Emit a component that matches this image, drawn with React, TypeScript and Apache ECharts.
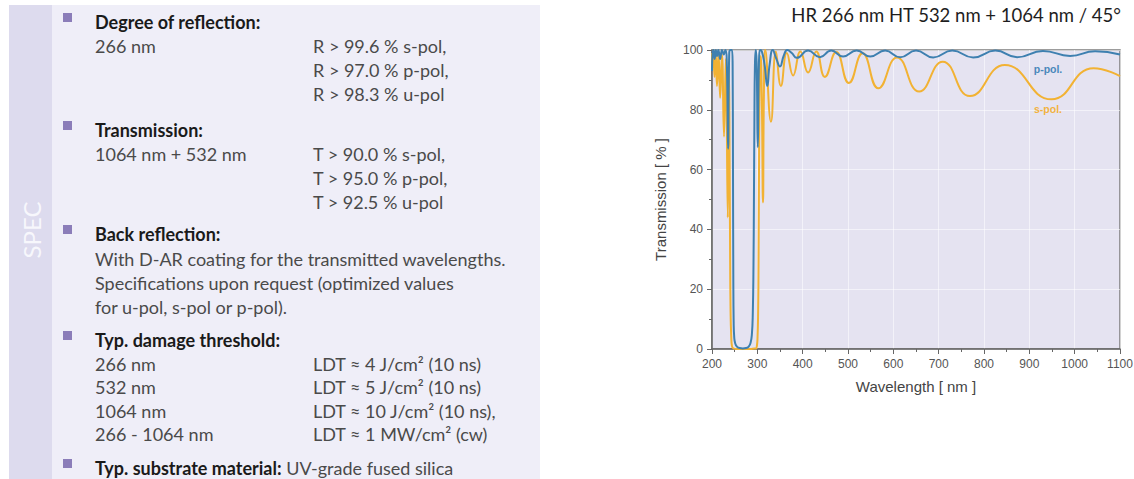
import React, { useEffect, useRef } from 'react';
import * as echarts from 'echarts';

// ---------- chart data ----------
const pPolWavelength = [
  200, 201.5, 203.5, 206, 208.5, 211, 214, 218, 222, 226, 229.5, 232.5, 235.5, 238, 241, 244,
  245.5, 246.3, 247, 247.8, 249, 251, 255, 261, 268, 275, 281, 285, 288, 290, 291.5, 292.5,
  293.5, 294.7, 296.5, 298.5, 301, 303.5, 306, 310, 316, 322, 327, 334, 342, 350, 358, 366,
  376, 387, 412, 438, 463, 489, 519, 549, 582, 615, 650, 688, 730, 776, 825, 873, 930, 990,
  1045, 1100,
];
const pPolTransmission = [
  93, 99, 100, 97, 100, 98, 100, 97, 100, 98.5, 100, 97, 67, 99, 100, 100,
  95, 60, 25, 9, 4, 2, 0.8, 0.3, 0.2, 0.3, 0.8, 2, 5, 12, 28, 50,
  75, 95, 100, 96, 67.5, 95, 100, 99.5, 95, 88, 95, 100, 97, 94.5, 98, 100,
  99, 97.4, 99.8, 97.6, 99.8, 97.8, 99.8, 97.8, 99.8, 97.6, 99.8, 97.5, 99.8, 97.5, 99.8, 97.6, 99.7, 98,
  99.6, 98.5,
];
const sPolWavelength = [
  200, 201, 203, 205.5, 208, 211, 214.5, 218, 222, 226.5, 230.5, 234.8, 237.3, 239, 240, 241,
  242.5, 244, 247, 255, 270, 285, 294, 297, 299, 300.5, 301.7, 302.7, 303.7, 305, 307.3, 309.8,
  312.5, 314.5, 317.5, 330, 341, 352, 365, 379, 395, 412, 430, 449, 474, 502, 532, 567,
  608, 657, 709, 769, 846, 949, 1042, 1100,
];
const sPolTransmission = [
  99, 94, 100, 91, 99.5, 88, 99, 84, 98.5, 71, 97, 44, 95, 60, 30, 12,
  4, 1, 0.2, 0, 0, 0, 0.2, 0.2, 1, 4, 12, 30, 60, 88, 98, 85,
  49, 85, 100, 76, 99.5, 88, 99, 91.5, 99.5, 92.5, 99.5, 91, 99.3, 89, 98.9, 87.2,
  97.5, 86.1, 96.1, 84.6, 95, 83.5, 93.9, 91.3,
];

const chartTitle = 'HR 266 nm HT 532 nm + 1064 nm / 45°';
const xAxisName = 'Wavelength [ nm ]';
const yAxisName = 'Transmission [ % ]';
const pPolLabel = 'p-pol.';
const sPolLabel = 's-pol.';

// ---------- spec panel text ----------
const sideLabel = 'SPEC';
const reflectionHeading = 'Degree of reflection:';
const reflectionLeft = ['266 nm'];
const reflectionRight = ['R > 99.6 % s-pol,', 'R > 97.0 % p-pol,', 'R > 98.3 % u-pol'];
const transmissionHeading = 'Transmission:';
const transmissionLeft = ['1064 nm + 532 nm'];
const transmissionRight = ['T > 90.0 % s-pol,', 'T > 95.0 % p-pol,', 'T > 92.5 % u-pol'];
const backHeading = 'Back reflection:';
const backLines = [
  'With D-AR coating for the transmitted wavelengths.',
  'Specifications upon request (optimized values',
  'for u-pol, s-pol or p-pol).',
];
const damageHeading = 'Typ. damage threshold:';
const damageLeft = ['266 nm', '532 nm', '1064 nm', '266 - 1064 nm'];
const damageRight = [
  'LDT ≈ 4 J/cm² (10 ns)',
  'LDT ≈ 5 J/cm² (10 ns)',
  'LDT ≈ 10 J/cm² (10 ns),',
  'LDT ≈ 1 MW/cm² (cw)',
];
const substrateHeading = 'Typ. substrate material:';
const substrateValue = 'UV-grade fused silica';

const zip = (xs: number[], ys: number[]) => xs.map((x, i) => [x, ys[i]]);

const PANEL_FONT = 'Lato, "Noto Sans", sans-serif';
const CHART_FONT = '"Liberation Sans", Arial, sans-serif';
const BODY_SIZE = 18;

function buildPanel(): any[] {
  const els: any[] = [];
  els.push({ type: 'rect', shape: { x: 9, y: 5, width: 531, height: 474 }, style: { fill: '#efeef8' }, silent: true });
  els.push({ type: 'rect', shape: { x: 9, y: 5, width: 43, height: 474 }, style: { fill: '#dddbee' }, silent: true });
  els.push({
    type: 'text', x: 31, y: 230, rotation: Math.PI / 2,
    style: { text: sideLabel, fontSize: 24, fontFamily: PANEL_FONT, fill: '#f7f7fc', align: 'center', verticalAlign: 'middle', textAlign: 'center', textVerticalAlign: 'middle' },
  });
  const textX = 95;
  const colX = 313;
  const head = (y: number, text: string, rich?: boolean) => {
    els.push({ type: 'rect', shape: { x: 63, y: y - 9, width: 9, height: 9 }, style: { fill: '#8b7db9' } });
    if (rich) {
      els.push({
        type: 'text', x: textX, y,
        style: {
          text, fontSize: BODY_SIZE, fontFamily: PANEL_FONT, fill: '#1a1a1a',
          align: 'left', verticalAlign: 'middle', textAlign: 'left', textVerticalAlign: 'middle',
          rich: {
            h: { fontSize: BODY_SIZE, fontFamily: PANEL_FONT, fontWeight: 'bold', fill: '#1a1a1a', color: '#1a1a1a' },
            v: { fontSize: BODY_SIZE, fontFamily: PANEL_FONT, fill: '#4a4a4a', color: '#4a4a4a' },
          },
        },
      });
    } else {
      els.push({
        type: 'text', x: textX, y,
        style: { text, fontSize: BODY_SIZE, fontWeight: 'bold', fontFamily: PANEL_FONT, fill: '#1a1a1a', align: 'left', verticalAlign: 'middle', textAlign: 'left', textVerticalAlign: 'middle' },
      });
    }
  };
  const body = (x: number, y: number, text: string) => {
    els.push({
      type: 'text', x, y,
      style: { text, fontSize: BODY_SIZE, fontFamily: PANEL_FONT, fill: '#4a4a4a', align: 'left', verticalAlign: 'middle', textAlign: 'left', textVerticalAlign: 'middle' },
    });
  };
  const step = 23.8;
  head(22, reflectionHeading);
  reflectionLeft.forEach((t, i) => body(textX, 46 + i * step, t));
  reflectionRight.forEach((t, i) => body(colX, 46 + i * step, t));
  head(130, transmissionHeading);
  transmissionLeft.forEach((t, i) => body(textX, 154 + i * step, t));
  transmissionRight.forEach((t, i) => body(colX, 154 + i * step, t));
  head(234, backHeading);
  backLines.forEach((t, i) => body(textX, 259 + i * step, t));
  head(340, damageHeading);
  damageLeft.forEach((t, i) => body(textX, 364 + i * 23.4, t));
  damageRight.forEach((t, i) => body(colX, 364 + i * 23.4, t));
  head(468, `{h|${substrateHeading}} {v|${substrateValue}}`, true);
  return els;
}

export default function App() {
  const ref = useRef<HTMLDivElement>(null);
  useEffect(() => {
    if (!ref.current) return;
    const chart = echarts.init(ref.current, null, { renderer: 'svg' });
    const axisColor = '#666';
    const option: any = {
      animation: false,
      backgroundColor: '#ffffff',
      grid: {
        left: 712, right: 14, top: 50, bottom: 130,
        show: true, backgroundColor: '#e5e3f1', borderColor: '#7c7c7c', borderWidth: 1.5,
        outerBoundsMode: 'none', containLabel: false,
      },
      xAxis: {
        type: 'value', min: 200, max: 1100, interval: 100,
        name: xAxisName, nameLocation: 'middle', nameGap: 30,
        nameTextStyle: { color: '#444', fontSize: 15, fontFamily: CHART_FONT },
        axisLine: { show: true, lineStyle: { color: axisColor, width: 1.5 } },
        axisTick: { show: true, inside: false, length: 5, lineStyle: { color: axisColor } },
        minorTick: { show: true, splitNumber: 2, length: 3, lineStyle: { color: axisColor } },
        axisLabel: { color: '#555', fontSize: 12, margin: 9, fontFamily: CHART_FONT, formatter: (v: number) => String(v) },
        splitLine: { show: true, lineStyle: { color: 'rgba(255,255,255,0.55)', width: 1 } },
        minorSplitLine: { show: false },
      },
      yAxis: {
        type: 'value', min: 0, max: 100, interval: 20,
        name: yAxisName, nameLocation: 'middle', nameGap: 44, nameRotate: 90,
        nameTextStyle: { color: '#444', fontSize: 15, fontFamily: CHART_FONT },
        axisLine: { show: true, lineStyle: { color: axisColor, width: 1.5 } },
        axisTick: { show: true, inside: false, length: 5, lineStyle: { color: axisColor } },
        minorTick: { show: true, splitNumber: 2, length: 3, lineStyle: { color: axisColor } },
        axisLabel: { color: '#555', fontSize: 12, margin: 9, fontFamily: CHART_FONT, formatter: (v: number) => String(v) },
        splitLine: { show: true, lineStyle: { color: 'rgba(255,255,255,0.55)', width: 1 } },
      },
      series: [
        {
          name: sPolLabel, type: 'line', data: zip(sPolWavelength, sPolTransmission),
          showSymbol: false, symbol: 'none', smooth: 0.5, clip: true,
          lineStyle: { color: '#f2b233', width: 2 }, z: 2,
        },
        {
          name: pPolLabel, type: 'line', data: zip(pPolWavelength, pPolTransmission),
          showSymbol: false, symbol: 'none', smooth: 0.5, clip: true,
          lineStyle: { color: '#3e80b0', width: 2 }, z: 3,
        },
      ],
      graphic: [
        ...buildPanel(),
        {
          type: 'text', x: 1121, y: 15,
          style: { text: chartTitle, fontSize: 18.5, fontFamily: PANEL_FONT, fill: '#1e1e1e', align: 'right', verticalAlign: 'middle', textAlign: 'right', textVerticalAlign: 'middle' },
        },
        {
          type: 'text', x: 1048, y: 69, z: 10,
          style: { text: pPolLabel, fontSize: 10.5, fontWeight: 'bold', fontFamily: CHART_FONT, fill: '#4a88bb', align: 'center', verticalAlign: 'middle', textAlign: 'center', textVerticalAlign: 'middle' },
        },
        {
          type: 'text', x: 1048, y: 109, z: 10,
          style: { text: sPolLabel, fontSize: 10.5, fontWeight: 'bold', fontFamily: CHART_FONT, fill: '#f2b23f', align: 'center', verticalAlign: 'middle', textAlign: 'center', textVerticalAlign: 'middle' },
        },
      ],
    };
    chart.setOption(option);
    return () => chart.dispose();
  }, []);
  return (
    <div
      ref={ref}
      style={{ position: 'absolute', left: 0, top: 0, width: 1134, height: 479, background: '#fff' }}
    />
  );
}
